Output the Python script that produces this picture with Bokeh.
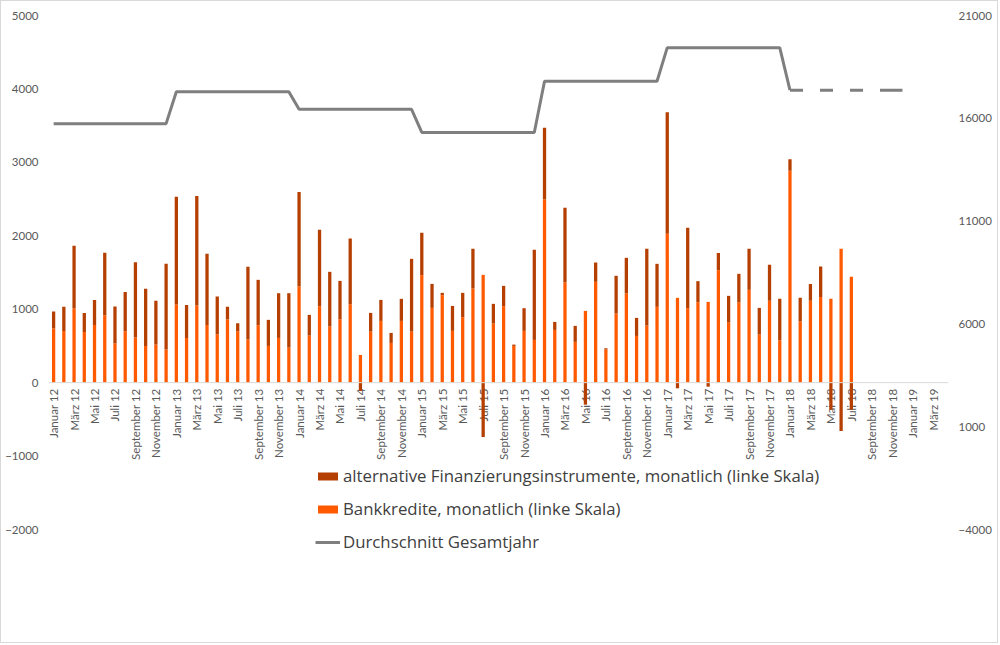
import numpy as np
from bokeh.plotting import figure
from bokeh.models import (Range1d, LinearAxis, FixedTicker, Span, Legend, LegendItem,
                          ColumnDataSource)
from bokeh.core.properties import value
from bokeh.embed import file_html
from bokeh.resources import INLINE

# ---------------- data ----------------
month_names = ["Januar", "Februar", "März", "April", "Mai", "Juni", "Juli",
               "August", "September", "Oktober", "November", "Dezember"]
years_short = ["12", "13", "14", "15", "16", "17", "18", "19"]
# categories Januar 12 .. April 19
categories = [f"{m} {y}" for y in years_short for m in month_names][:88]

# Bankkredite, monatlich (linke Skala), Jan 12 .. Jul 18
bank = [736, 705, 1009, 691, 786, 918, 532, 700, 614, 500, 518, 450,
        1064, 609, 1050, 786, 659, 859, 700, 586, 782, 500, 609, 477,
        1309, 641, 1041, 764, 864, 1068, 377, 695, 841, 541, 841, 695,
        1464, 1018, 1191, 705, 891, 1282, 1468, 805, 1041, 500, 705, 582,
        2495, 718, 1364, 555, 977, 1373, 450, 941, 1214, 636, 777, 1032,
        2027, 1155, 1014, 1095, 1100, 1532, 818, 1091, 1264, 655, 1114, 577,
        2886, 832, 1114, 1168, 1141, 1823, 1441]

# alternative Finanzierungsinstrumente, monatlich (linke Skala)
alt = [232, 327, 855, 259, 341, 850, 504, 536, 1027, 777, 596, 1168,
       1468, 450, 1491, 969, 514, 173, 109, 991, 618, 355, 609, 741,
       1286, 282, 1041, 745, 522, 896, -114, 255, 286, 136, 300, 991,
       577, 327, 32, 340, 332, 541, -741, 268, 277, 18, 309, 1227,
       978, 109, 1018, 218, -300, 263, 18, 514, 486, 246, 1046, 586,
       1655, -77, 1095, 287, -55, 232, 364, 391, 559, 363, 491, 564,
       155, 323, 231, 414, -370, -658, -370]

# Durchschnitt Gesamtjahr (rechte Skala), 2012 .. 2018 (2018 Prognose)
avg_years = ["2012", "2013", "2014", "2015", "2016", "2017", "2018"]
avg_values = [15740, 17290, 16435, 15313, 17805, 19435, 17369]

left_ticks = [-2000, -1000, 0, 1000, 2000, 3000, 4000, 5000]
right_ticks = [-4000, 1000, 6000, 11000, 16000, 21000]

# ---------------- derived ----------------
n = len(bank)
xi = np.arange(n)
bank_a = np.array(bank, dtype=float)
alt_a = np.array(alt, dtype=float)
alt_bottom = np.where(alt_a >= 0, bank_a, alt_a)
alt_top = np.where(alt_a >= 0, bank_a + alt_a, 0.0)

line_vals = np.repeat(avg_values, 12)
lx = np.arange(len(line_vals))
first_forecast = 12 * (len(avg_values) - 1)

ORANGE = "#FF5A00"
DARK = "#B43F00"
GREY = "#7F7F7F"
TXT = "#595959"
FONT = "Lato"

# frame: axis span 514 px, plus room below for the legend
AX_PX = 514
PAD_PX = 31
pad = PAD_PX / AX_PX
l_lo = left_ticks[0] - (left_ticks[-1] - left_ticks[0]) * pad
r_lo = right_ticks[0] - (right_ticks[-1] - right_ticks[0]) * pad

p = figure(width=998, height=643, output_backend="svg", toolbar_location=None,
           x_range=Range1d(-0.5, len(categories) - 0.5),
           y_range=Range1d(l_lo, left_ticks[-1]),
           min_border_left=47, min_border_right=51, min_border_top=14,
           min_border_bottom=643 - 14 - AX_PX - PAD_PX,
           background_fill_color="white", border_fill_color="white")
p.styles = {"border": "1px solid #d9d9d9"}
p.outline_line_color = None
p.grid.visible = False
p.xaxis.visible = False

def style_axis(ax):
    ax.axis_line_color = None
    ax.major_tick_line_color = None
    ax.minor_tick_line_color = None
    ax.major_tick_out = 0
    ax.major_tick_in = 0
    ax.minor_tick_out = 0
    ax.minor_tick_in = 0
    ax.major_label_text_font = FONT
    ax.major_label_text_font_size = "11.5px"
    ax.major_label_text_color = TXT
    ax.major_label_standoff = 10

# left axis
ya = p.yaxis[0]
ya.ticker = FixedTicker(ticks=left_ticks)
style_axis(ya)

# right axis
p.extra_y_ranges = {"right": Range1d(r_lo, right_ticks[-1])}
ra = LinearAxis(y_range_name="right", ticker=FixedTicker(ticks=right_ticks))
style_axis(ra)
p.add_layout(ra, "right")

# category axis line at zero
p.add_layout(Span(location=0, dimension="width", line_color="#D9D9D9", line_width=1))

# category labels (every second month) at the zero line
lab_idx = list(range(0, len(categories), 2))
lab_src = ColumnDataSource(dict(x=lab_idx, y=[0] * len(lab_idx),
                                t=[categories[i] for i in lab_idx]))
p.text(x="x", y="y", text="t", source=lab_src, angle=np.pi / 2,
       text_align="right", text_baseline="middle", y_offset=6,
       text_font=value(FONT), text_font_size="11.5px", text_color=TXT)

# bars
bw = 0.32
r_bank = p.vbar(x=xi, bottom=0, top=bank_a, width=bw, fill_color=ORANGE, line_color=None)
r_alt = p.vbar(x=xi, bottom=alt_bottom, top=alt_top, width=bw, fill_color=DARK, line_color=None)

# annual average line (2018 as forecast, dashed)
r_line = p.line(x=lx[:first_forecast + 1], y=line_vals[:first_forecast + 1],
                y_range_name="right", line_color=GREY, line_width=3)
p.line(x=lx[first_forecast:], y=line_vals[first_forecast:], y_range_name="right",
       line_color=GREY, line_width=3, line_dash="13 17 13 17 13 17 30")

legend = Legend(items=[
    LegendItem(label="alternative Finanzierungsinstrumente, monatlich (linke Skala)", renderers=[r_alt]),
    LegendItem(label="Bankkredite, monatlich (linke Skala)", renderers=[r_bank]),
    LegendItem(label="Durchschnitt Gesamtjahr", renderers=[r_line]),
], location=(267, 7), orientation="vertical",
   glyph_width=25, glyph_height=10, label_height=22, spacing=10, padding=0, margin=0,
   label_standoff=3, label_text_font="Open Sans", label_text_font_size="16.8px",
   label_text_color="#404040", border_line_color=None, background_fill_alpha=0)
p.add_layout(legend, "center")

open("out.html", "w").write(file_html(p, INLINE))
